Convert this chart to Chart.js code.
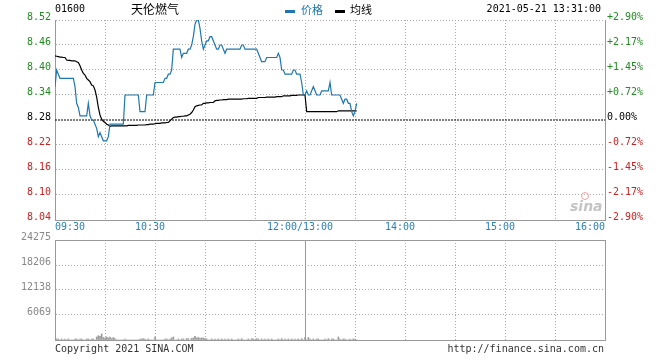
<!DOCTYPE html>
<html>
<head>
<meta charset="utf-8">
<script src="https://cdn.jsdelivr.net/npm/chart.js@4.4.0/dist/chart.umd.min.js"></script>
<style>
  html, body { margin: 0; padding: 0; background: #fff; }
  #wrap { position: relative; width: 660px; height: 360px; font-family: "DejaVu Sans Mono", monospace; font-size: 10px; color: #000; }
  #wrap canvas { position: absolute; left: 0; top: 0; }
  .txt { position: absolute; white-space: nowrap; line-height: 12px; }
  .cjk { font-family: "Noto Sans CJK SC", sans-serif; }
  .mark { position: absolute; width: 10px; height: 3px; }
</style>
</head>
<body>
<div id="wrap">
  <canvas id="volChart" width="660" height="360"></canvas>
  <canvas id="priceChart" width="660" height="360"></canvas>

  <div class="txt" style="left:55px;top:3px;">01600</div>
  <div class="txt cjk" style="left:131px;top:2px;font-size:12px;line-height:14px;">天伦燃气</div>
  <div class="mark" style="left:285px;top:10px;background:#2077ad;"></div>
  <div class="txt cjk" style="left:301px;top:3px;font-size:11px;color:#2077ad;">价格</div>
  <div class="mark" style="left:335px;top:10px;background:#000;"></div>
  <div class="txt cjk" style="left:350px;top:3px;font-size:11px;">均线</div>
  <div class="txt" style="right:59px;top:3px;">2021-05-21 13:31:00</div>

  <div class="txt" style="left:570px;top:198px;font-family:'DejaVu Sans';font-style:italic;font-weight:bold;font-size:14px;line-height:16px;color:#c4c4c4;">sina</div>
  <div style="position:absolute;left:581px;top:192px;width:6px;height:6px;border-radius:50%;border:1px solid #f0a0a0;"></div>

  <div class="txt" style="left:55px;top:343px;color:#333;">Copyright 2021 SINA.COM</div>
  <div class="txt" style="right:56px;top:343px;color:#333;">http://finance.sina.com.cn</div>
</div>

<script>
// 昨收
const prevClose = 8.28;

// 刻度
const priceTicks = [8.04, 8.10, 8.16, 8.22, 8.28, 8.34, 8.40, 8.46, 8.52];
const volumeTicks = [0, 6069, 12138, 18206, 24275];
const gridMinutes = [0, 30, 60, 90, 120, 150, 180, 210, 240, 270, 300, 330];
const timeTicks = [0, 60, 150, 210, 270, 330];
const timeLabels = ["09:30", "10:30", "12:00/13:00", "14:00", "15:00", "16:00"];

// 分时价格 (09:30 起每分钟, 午休压缩)
const prices = [
  8.36, 8.40, 8.39, 8.38, 8.38, 8.38, 8.38, 8.38, 8.38, 8.38,
  8.38, 8.38, 8.36, 8.32, 8.31, 8.29, 8.29, 8.29, 8.29, 8.29,
  8.32, 8.29, 8.28, 8.28, 8.27, 8.26, 8.24, 8.25, 8.24, 8.23,
  8.23, 8.23, 8.24, 8.27, 8.27, 8.27, 8.27, 8.27, 8.27, 8.27,
  8.27, 8.27, 8.34, 8.34, 8.34, 8.34, 8.34, 8.34, 8.34, 8.34,
  8.34, 8.30, 8.30, 8.30, 8.30, 8.34, 8.34, 8.34, 8.34, 8.34,
  8.37, 8.37, 8.37, 8.37, 8.37, 8.37, 8.38, 8.38, 8.39, 8.39,
  8.40, 8.45, 8.45, 8.45, 8.45, 8.45, 8.43, 8.44, 8.44, 8.44,
  8.45, 8.45, 8.46, 8.48, 8.51, 8.52, 8.52, 8.50, 8.47, 8.45,
  8.46, 8.47, 8.47, 8.48, 8.48, 8.47, 8.46, 8.45, 8.45, 8.46,
  8.46, 8.45, 8.44, 8.45, 8.45, 8.45, 8.45, 8.45, 8.45, 8.45,
  8.45, 8.45, 8.46, 8.46, 8.45, 8.45, 8.45, 8.45, 8.45, 8.45,
  8.45, 8.45, 8.44, 8.43, 8.42, 8.42, 8.42, 8.43, 8.43, 8.43,
  8.43, 8.43, 8.43, 8.43, 8.44, 8.43, 8.40, 8.40, 8.39, 8.39,
  8.39, 8.39, 8.39, 8.40, 8.40, 8.39, 8.39, 8.39, 8.37, 8.34,
  8.34, 8.35, 8.34, 8.34, 8.35, 8.36, 8.35, 8.34, 8.34, 8.34,
  8.35, 8.35, 8.35, 8.35, 8.35, 8.37, 8.34, 8.34, 8.34, 8.34,
  8.34, 8.34, 8.33, 8.32, 8.33, 8.33, 8.32, 8.32, 8.30, 8.29,
  8.30, 8.32
];

// 均价
const avgPrices = [
  8.434, 8.433, 8.432, 8.431, 8.431, 8.430, 8.430, 8.424, 8.423, 8.423,
  8.422, 8.422, 8.422, 8.420, 8.418, 8.410, 8.400, 8.392, 8.388, 8.380,
  8.376, 8.372, 8.364, 8.362, 8.352, 8.335, 8.310, 8.292, 8.282, 8.277,
  8.274, 8.270, 8.268, 8.265, 8.266, 8.266, 8.266, 8.266, 8.266, 8.266,
  8.266, 8.266, 8.266, 8.266, 8.267, 8.267, 8.267, 8.267, 8.267, 8.267,
  8.268, 8.268, 8.268, 8.268, 8.268, 8.269, 8.269, 8.270, 8.270, 8.270,
  8.271, 8.272, 8.272, 8.272, 8.273, 8.273, 8.273, 8.274, 8.274, 8.278,
  8.282, 8.286, 8.287, 8.287, 8.288, 8.288, 8.289, 8.289, 8.290, 8.290,
  8.292, 8.294, 8.298, 8.304, 8.312, 8.314, 8.315, 8.316, 8.316, 8.320,
  8.320, 8.321, 8.321, 8.322, 8.322, 8.322, 8.326, 8.327, 8.327, 8.328,
  8.328, 8.329, 8.329, 8.329, 8.330, 8.330, 8.330, 8.330, 8.330, 8.330,
  8.330, 8.330, 8.330, 8.331, 8.331, 8.331, 8.332, 8.332, 8.332, 8.332,
  8.332, 8.332, 8.334, 8.334, 8.334, 8.334, 8.334, 8.335, 8.335, 8.335,
  8.335, 8.335, 8.335, 8.336, 8.336, 8.336, 8.336, 8.338, 8.338, 8.338,
  8.338, 8.338, 8.339, 8.339, 8.339, 8.339, 8.340, 8.340, 8.340, 8.340,
  8.340, 8.300, 8.300, 8.300, 8.300, 8.300, 8.300, 8.300, 8.300, 8.300,
  8.300, 8.300, 8.300, 8.300, 8.300, 8.300, 8.300, 8.300, 8.300, 8.300,
  8.302, 8.302, 8.302, 8.302, 8.302, 8.302, 8.302, 8.302, 8.302, 8.302,
  8.302, 8.302
];

// 成交量
const volumes = [
  0, 250, 250, 0, 250, 0, 250, 0, 250, 0,
  0, 0, 250, 250, 0, 250, 250, 0, 0, 250,
  250, 0, 250, 250, 0, 730, 1050, 890, 1460, 600,
  490, 730, 490, 730, 330, 600, 330, 0, 0, 0,
  0, 0, 250, 0, 0, 0, 0, 0, 0, 0,
  0, 250, 250, 330, 250, 0, 250, 0, 0, 0,
  730, 0, 0, 0, 0, 0, 250, 250, 0, 250,
  490, 730, 0, 0, 250, 0, 250, 250, 0, 330,
  330, 0, 400, 490, 890, 490, 600, 400, 490, 490,
  330, 250, 0, 0, 250, 0, 250, 0, 250, 0,
  250, 0, 250, 0, 250, 0, 250, 0, 0, 0,
  250, 0, 330, 0, 0, 0, 250, 0, 330, 250,
  0, 330, 250, 0, 250, 0, 250, 0, 250, 0,
  250, 0, 0, 0, 250, 0, 330, 0, 250, 0,
  250, 0, 250, 0, 250, 0, 250, 0, 330, 0,
  600, 0, 600, 250, 0, 250, 0, 250, 250, 0,
  0, 0, 250, 0, 330, 0, 250, 250, 0, 0,
  730, 250, 0, 250, 250, 0, 0, 250, 0, 250,
  250, 0
];

const upColor = "#228b22";
const downColor = "#cc2222";
const gridColor = "#aaa";
const frameColor = "#999";
const clear = "rgba(0,0,0,0)";

Chart.defaults.font.family = '"DejaVu Sans Mono", monospace';
Chart.defaults.font.size = 10;

const pts = arr => arr.map((v, i) => ({ x: i, y: v }));
const tickColor = c => {
  if (!c.tick) return "#000";
  const v = c.tick.value;
  return v > prevClose ? upColor : (v < prevClose ? downColor : "#000");
};
const xGrid = c => (c.tick && (c.tick.value === 0 || c.tick.value === 330)) ? clear : gridColor;

// 时间标签
const timeLabelPlugin = {
  id: "timeLabels",
  afterDraw(chart) {
    const { ctx, chartArea, scales } = chart;
    ctx.save();
    ctx.font = '10px "DejaVu Sans Mono"';
    ctx.fillStyle = "#2a80b9";
    ctx.textBaseline = "middle";
    timeTicks.forEach((m, i) => {
      let px = scales.x.getPixelForValue(m);
      if (i === 0) ctx.textAlign = "left";
      else if (i === timeTicks.length - 1) ctx.textAlign = "right";
      else { ctx.textAlign = "center"; px -= 5; }
      ctx.fillText(timeLabels[i], px, chartArea.bottom + 7);
    });
    ctx.restore();
  }
};

// 成交量框线 + 午休分隔
const volFramePlugin = {
  id: "volFrame",
  afterDraw(chart) {
    const { ctx, chartArea: a, scales } = chart;
    ctx.save();
    ctx.strokeStyle = frameColor;
    ctx.lineWidth = 1;
    ctx.beginPath();
    ctx.moveTo(a.left, a.top + 0.5);
    ctx.lineTo(a.right, a.top + 0.5);
    const lx = Math.round(scales.x.getPixelForValue(150)) + 0.5;
    ctx.moveTo(lx, a.top);
    ctx.lineTo(lx, a.bottom);
    ctx.stroke();
    ctx.restore();
  }
};

new Chart(document.getElementById("priceChart"), {
  type: "line",
  data: {
    datasets: [
      { label: "价格", data: pts(prices), borderColor: "#2077ad", borderWidth: 1.2, pointRadius: 0, tension: 0 },
      { label: "均线", data: pts(avgPrices), borderColor: "#000", borderWidth: 1.2, pointRadius: 0, tension: 0 },
      { label: "昨收", data: [{ x: 0, y: prevClose }, { x: 330, y: prevClose }], borderColor: "#000", borderWidth: 1, borderDash: [2, 1], pointRadius: 0 }
    ]
  },
  options: {
    responsive: false,
    animation: false,
    layout: { padding: { top: 20, left: 0, right: 0, bottom: 0 } },
    plugins: { legend: { display: false }, tooltip: { enabled: false } },
    scales: {
      x: {
        type: "linear", min: 0, max: 330,
        afterBuildTicks: s => { s.ticks = gridMinutes.map(v => ({ value: v })); },
        afterFit: s => { s.height = 140; },
        ticks: { display: false },
        grid: { color: xGrid, drawTicks: false },
        border: { color: frameColor, dash: [1, 2] }
      },
      y: {
        min: 8.04, max: 8.52,
        afterBuildTicks: s => { s.ticks = priceTicks.map(v => ({ value: v })); },
        afterFit: s => { s.width = 55; },
        ticks: { padding: 4, labelOffset: -2.5, color: tickColor, callback: v => v.toFixed(2) },
        grid: { color: c => (c.tick && c.tick.value === prevClose) ? clear : gridColor, drawTicks: false },
        border: { color: frameColor, dash: [1, 2] }
      },
      y2: {
        position: "right", min: 8.04, max: 8.52,
        afterBuildTicks: s => { s.ticks = priceTicks.map(v => ({ value: v })); },
        afterFit: s => { s.width = 55; },
        ticks: {
          padding: 2, labelOffset: -2.5, color: tickColor,
          callback: v => {
            const p = (v - prevClose) / prevClose * 100;
            if (Math.abs(p) < 0.0001) return "0.00%";
            return (p > 0 ? "+" : "") + p.toFixed(2) + "%";
          }
        },
        grid: { drawOnChartArea: false, drawTicks: false },
        border: { color: frameColor }
      }
    }
  },
  plugins: [timeLabelPlugin]
});

new Chart(document.getElementById("volChart"), {
  type: "bar",
  data: {
    datasets: [
      { label: "成交量", data: pts(volumes), backgroundColor: "#999", borderWidth: 0, barThickness: 1 }
    ]
  },
  options: {
    responsive: false,
    animation: false,
    layout: { padding: { top: 240, left: 0, right: 0, bottom: 0 } },
    plugins: { legend: { display: false }, tooltip: { enabled: false } },
    scales: {
      x: {
        type: "linear", min: 0, max: 330, offset: false,
        afterBuildTicks: s => { s.ticks = gridMinutes.map(v => ({ value: v })); },
        afterFit: s => { s.height = 20; },
        ticks: { display: false },
        grid: { color: xGrid, drawTicks: false, offset: false },
        border: { color: frameColor, dash: [1, 2] }
      },
      y: {
        min: 0, max: 24275,
        afterBuildTicks: s => { s.ticks = volumeTicks.map(v => ({ value: v })); },
        afterFit: s => { s.width = 55; },
        ticks: { padding: 4, labelOffset: -2.5, color: "#888", callback: v => v === 0 ? "" : String(v) },
        grid: { color: c => (c.tick && c.tick.value === 0) ? clear : gridColor, drawTicks: false },
        border: { color: frameColor, dash: [1, 2] }
      },
      y2: {
        position: "right", min: 0, max: 1,
        afterFit: s => { s.width = 55; },
        ticks: { display: false },
        grid: { drawOnChartArea: false, drawTicks: false },
        border: { color: frameColor }
      }
    }
  },
  plugins: [volFramePlugin]
});
</script>
</body>
</html>
